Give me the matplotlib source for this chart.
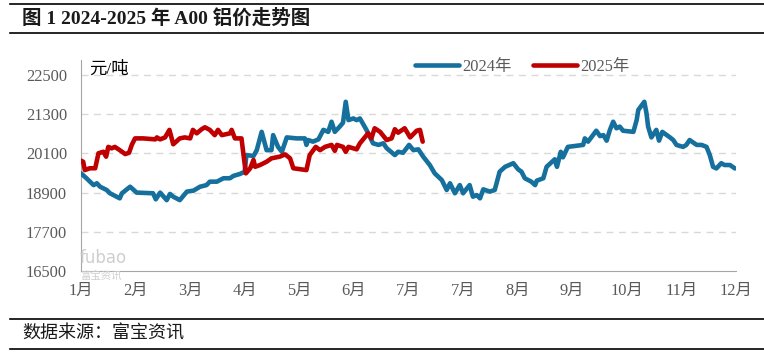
import matplotlib
matplotlib.use("Agg")
import matplotlib.pyplot as plt
from matplotlib.lines import Line2D

# ---- data (x = position on month axis, 0 = first label) ----
x_2024 = [0.00, 0.10, 0.23, 0.29, 0.35, 0.47, 0.53, 0.71, 0.75, 0.90, 1.02, 1.32, 1.37, 1.45, 1.57,
          1.63, 1.69, 1.81, 1.94, 2.06, 2.18, 2.30, 2.36, 2.49, 2.61, 2.73, 2.79, 2.91, 3.00, 3.03,
          3.16, 3.22, 3.31, 3.40, 3.49, 3.52, 3.61, 3.68, 3.77, 3.95, 4.10, 4.13, 4.16, 4.25, 4.35,
          4.44, 4.53, 4.59, 4.65, 4.74, 4.80, 4.85, 4.90, 4.99, 5.05, 5.11, 5.23, 5.35, 5.45, 5.54,
          5.60, 5.75, 5.81, 5.90, 6.01, 6.09, 6.18, 6.27, 6.39, 6.48, 6.61, 6.70, 6.76, 6.85, 6.94,
          7.00, 7.12, 7.18, 7.25, 7.31, 7.37, 7.49, 7.58, 7.67, 7.77, 7.92, 8.01, 8.07, 8.13, 8.25,
          8.32, 8.35, 8.47, 8.53, 8.68, 8.72, 8.79, 8.83, 8.92, 9.20, 9.23, 9.29, 9.44, 9.51, 9.57,
          9.63, 9.69, 9.75, 9.81, 9.87, 9.93, 10.12, 10.18, 10.21, 10.32, 10.36, 10.39, 10.45, 10.54,
          10.59, 10.65, 10.79, 10.85, 10.91, 11.03, 11.09, 11.15, 11.28, 11.37, 11.46, 11.52, 11.58,
          11.64, 11.73, 11.79, 11.89, 11.98]
y_2024 = [19490, 19340, 19130, 19185, 19080, 18980, 18880, 18725, 18880, 19080, 18900, 18880, 18695, 18900, 18670,
          18860, 18775, 18670, 18930, 18960, 19080, 19130, 19235, 19235, 19340, 19340, 19410, 19470, 19540, 20050,
          20020, 20200, 20760, 20200, 20200, 20660, 20300, 20150, 20590, 20560, 20560, 20360, 20510, 20460, 20530,
          20820, 20760, 21070, 20760, 20920, 21040, 21680, 21120, 21170, 21120, 21170, 20820, 20410, 20360, 20410,
          20260, 20050, 20150, 20120, 20360, 20200, 20225, 20000, 19745, 19490, 19285, 18980, 19185, 18880, 19130,
          18880, 19130, 18775, 18825, 18725, 19000, 18930, 18980, 19540, 19690, 19800, 19610, 19540, 19340, 19235,
          19130, 19265, 19340, 19690, 19920, 19690, 20150, 19980, 20300, 20360, 20560, 20460, 20795, 20630, 20660,
          20490, 20820, 21070, 20870, 20920, 20795, 20760, 21120, 21430, 21680, 21330, 20920, 20590, 20820,
          20490, 20760, 20590, 20510, 20360, 20300, 20360, 20510, 20360, 20360, 20300, 20050, 19690,
          19640, 19800, 19745, 19745, 19640]

x_2025 = [0.00, 0.04, 0.07, 0.16, 0.26, 0.32, 0.41, 0.46, 0.50, 0.56, 0.62, 0.71, 0.81, 0.88, 0.93,
          0.99, 1.14, 1.36, 1.39, 1.45, 1.54, 1.62, 1.69, 1.81, 1.90, 2.00, 2.05, 2.12, 2.21, 2.27,
          2.36, 2.45, 2.51, 2.58, 2.73, 2.76, 2.82, 2.94, 3.02, 3.10, 3.16, 3.19, 3.28, 3.40, 3.49,
          3.64, 3.74, 3.83, 3.89, 4.13, 4.19, 4.30, 4.38, 4.47, 4.59, 4.65, 4.69, 4.80, 4.85, 4.90,
          5.05, 5.11, 5.26, 5.32, 5.38, 5.48, 5.60, 5.69, 5.75, 5.81, 5.93, 6.03, 6.15, 6.21, 6.26]
y_2025 = [19880, 19845, 19590, 19645, 19645, 20105, 20150, 20000, 20300, 20255, 20300, 20200, 20080, 20120, 20360,
          20560, 20560, 20530, 20590, 20530, 20590, 20820, 20380, 20560, 20590, 20560, 20820, 20715, 20840, 20900,
          20820, 20660, 20820, 20660, 20715, 20820, 20560, 20560, 19490, 19645, 19900, 19690, 19745, 19845, 19950,
          20000, 20070, 19950, 19645, 19590, 20050, 20300, 20200, 20300, 20360, 20180, 20360, 20300, 20150, 20300,
          20225, 20410, 20715, 20560, 20870, 20760, 20510, 20560, 20840, 20735, 20870, 20590, 20795, 20820, 20460]

month_labels = ["1月", "2月", "3月", "4月", "5月", "6月", "7月", "7月", "8月", "9月", "10月", "11月", "12月"]
y_ticks = [16500, 17700, 18900, 20100, 21300, 22500]
series_names = ["2024年", "2025年"]

BLUE = "#16709D"
RED = "#C00000"
GRAY = "#595959"
SERIF = ["Liberation Serif", "Noto Sans CJK SC"]

fig = plt.figure(figsize=(7.64, 3.56), dpi=100)
ax = fig.add_axes([81/764, 1-271/356, (736-81)/764, (271-60)/356])

ax.plot(x_2024, y_2024, color=BLUE, lw=3.3, solid_joinstyle="round", solid_capstyle="round", zorder=3)
ax.plot(x_2025, y_2025, color=RED, lw=3.3, solid_joinstyle="round", solid_capstyle="round", zorder=4)

ax.set_xlim(0, 12)
ax.set_ylim(16500, 22960)
ax.set_yticks(y_ticks)
ax.set_yticklabels([str(v) for v in y_ticks], family=SERIF, fontsize=11.8, color=GRAY)
ax.set_xticks(range(len(month_labels)))
ax.set_xticklabels(month_labels, family=SERIF, fontsize=11.8, color=GRAY)
ax.tick_params(axis="both", length=0)
ax.tick_params(axis="x", pad=8.5)
ax.tick_params(axis="y", pad=10)

for v in y_ticks[1:]:
    ax.axhline(v, color="#D9D9D9", lw=1, ls=(0, (5, 4)), zorder=1)

for s in ["top", "right"]:
    ax.spines[s].set_visible(False)
ax.spines["left"].set_color("#A6A6A6")
ax.spines["bottom"].set_color("#A6A6A6")

ax.text(0.013, 0.995, "元/吨", transform=ax.transAxes, ha="left", va="top",
        fontsize=12.5, family=SERIF, color="black")

# watermark
fig.text(80/764, 1-258/356, "fubao", fontsize=12, color="#CFCFCF", ha="left", va="center",
         family=["DejaVu Sans"], zorder=0)
fig.text(80/764, 1-276/356, "富宝资讯", fontsize=7.5, color="#CFCFCF", ha="left", va="center",
         family=["Noto Sans CJK SC"], zorder=0)

handles = [Line2D([], [], color=BLUE, lw=3.3, solid_capstyle="round"),
           Line2D([], [], color=RED, lw=3.3, solid_capstyle="round")]
leg = fig.legend(handles, series_names, loc="center", bbox_to_anchor=(522/764, 1-67/356), ncol=2,
                 frameon=False, handlelength=2.7, handletextpad=0.2, columnspacing=1.3,
                 prop={"family": SERIF, "size": 11.8})
for t in leg.get_texts():
    t.set_color(GRAY)

# title & frame lines
fig.add_artist(Line2D([10/764, 1], [1-3.5/356, 1-3.5/356], color="black", lw=1.2))
fig.add_artist(Line2D([10/764, 1], [1-33/356, 1-33/356], color="black", lw=1.2))
fig.text(22/764, 1-18/356, "图 1 2024-2025 年 A00 铝价走势图", fontsize=14, fontweight="bold",
         family=SERIF, ha="left", va="center", color="#1a1a1a")
fig.add_artist(Line2D([10/764, 1], [1-319/356, 1-319/356], color="black", lw=1.2))
fig.add_artist(Line2D([10/764, 1], [1-349/356, 1-349/356], color="black", lw=1.2))
fig.text(22/764, 1-334/356, "数据来源：富宝资讯", fontsize=13, family=SERIF,
         ha="left", va="center", color="#1a1a1a")

fig.savefig("out.png", dpi=100)
